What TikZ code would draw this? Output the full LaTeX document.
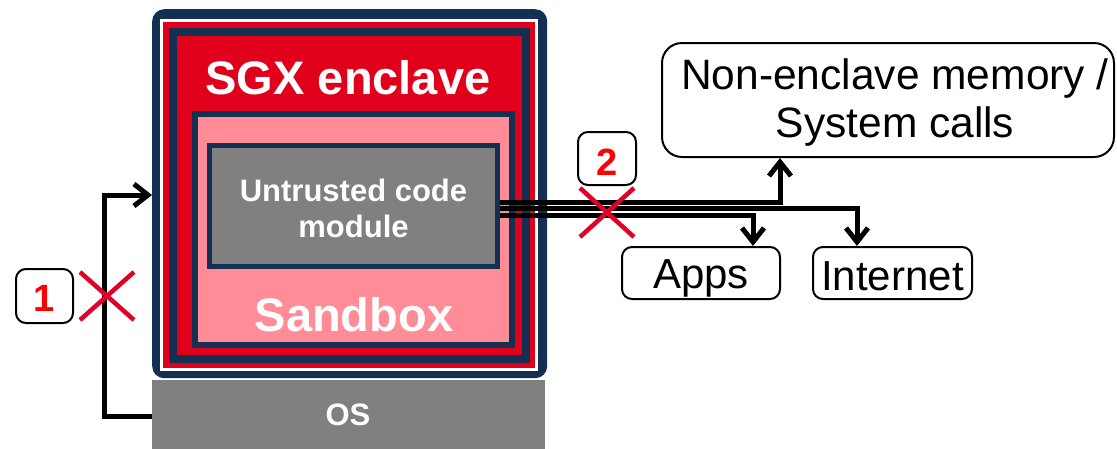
\documentclass[tikz,border=0pt]{standalone}
\usepackage{fontspec}
\setmainfont{Liberation Sans}
\usetikzlibrary{arrows.meta}
\definecolor{navy}{RGB}{19,48,82}
\definecolor{sgxred}{RGB}{224,0,27}
\definecolor{pinkfill}{RGB}{255,140,150}
\definecolor{osgray}{RGB}{128,128,128}
\definecolor{xred}{RGB}{224,0,40}
\tikzset{
  connline/.style={draw=black, line width=5pt, -{Straight Barb[length=14pt,width=22pt]}},
  plainbox/.style={draw=black, line width=2pt, rounded corners=10pt, fill=white, inner sep=0pt},
  bignum/.style={text=red, font=\bfseries\fontsize{38}{40}\selectfont},
  crossline/.style={line width=4.5pt, xred},
  whitebold/.style={text=white, font=\bfseries},
}
\begin{document}
\begin{tikzpicture}[x=1pt,y=-1pt]
\useasboundingbox (0,0) rectangle (1117,448);
% enclave rings
\node[fill=navy, rounded corners=12pt, minimum width=395pt, minimum height=369pt, inner sep=0pt, anchor=north west] (enc) at (152,9) {};
\fill[white] (160,19) rectangle (538,371);
\fill[sgxred] (163,22) rectangle (535,368);
\fill[navy] (169,28) rectangle (530,363);
\fill[sgxred] (177,36) rectangle (522,355);
\node[whitebold, font=\bfseries\fontsize{47}{50}\selectfont] (sgx) at (348,78) {SGX enclave};
% sandbox
\node[draw=navy, fill=pinkfill, line width=6pt, minimum width=317pt, minimum height=231pt, inner sep=0pt] (sandbox) at (353.5,229.5) {};
\node[whitebold, font=\bfseries\fontsize{47}{50}\selectfont] (sblabel) at (354,315) {Sandbox};
% module
\node[draw=navy, fill=osgray, line width=4.5pt, minimum width=288pt, minimum height=121pt, inner sep=0pt] (module) at (353.5,206) {};
\node[whitebold, font=\bfseries\fontsize{31}{36}\selectfont, align=center] (modlabel) at (353.5,208) {Untrusted code\\module};
% OS
\node[fill=osgray, minimum width=393pt, minimum height=70pt, inner sep=0pt, anchor=north west] (os) at (152,380) {};
\node[whitebold, font=\bfseries\fontsize{31}{34}\selectfont] (oslabel) at (348,415) {OS};
% right boxes
\node[plainbox, rounded corners=20pt, minimum width=452pt, minimum height=114pt] (nonenc) at (888,100) {};
\node[align=center, font=\fontsize{42.5}{48}\selectfont] (nonenclabel) at (895,103) {Non-enclave memory /\\System calls};
\node[plainbox, minimum width=158pt, minimum height=52pt] (apps) at (701,273) {};
\node[font=\fontsize{42}{44}\selectfont] (appslabel) at (701,278) {Apps};
\node[plainbox, minimum width=159pt, minimum height=52pt] (internet) at (892.5,273) {};
\node[font=\fontsize{42}{44}\selectfont] (internetlabel) at (892.5,276) {Internet};
% label boxes
\node[plainbox, minimum width=57pt, minimum height=54pt] (one) at (44.5,296) {};
\node[bignum] (onelabel) at (44.5,298) {1};
\node[plainbox, minimum width=58pt, minimum height=53pt] (two) at (607,158.5) {};
\node[bignum] (twolabel) at (607,162) {2};
% arrow 1
\coordinate (a1) at (104,416);
\coordinate (a2) at (104,195);
\draw[connline] (os.west |- a1) -- (a1) -- (a2) -- (enc.west |- a2);
% arrows 2
\coordinate (s1) at (module.east |- 0,202);
\coordinate (s2) at (module.east |- 0,208.5);
\coordinate (s3) at (module.east |- 0,215);
\draw[connline] (s1) -- (780,202) -- (nonenc.south -| 780,0);
\draw[connline] (s2) -- (857,208.5) -- (internet.north -| 857,0);
\draw[connline] (s3) -- (753,215) -- (apps.north -| 753,0);
% crosses
\draw[crossline] (80,272) -- (134,320) (80,320) -- (134,272);
\draw[crossline] (580,188) -- (634,237) (580,237) -- (634,188);
\end{tikzpicture}
\end{document}
